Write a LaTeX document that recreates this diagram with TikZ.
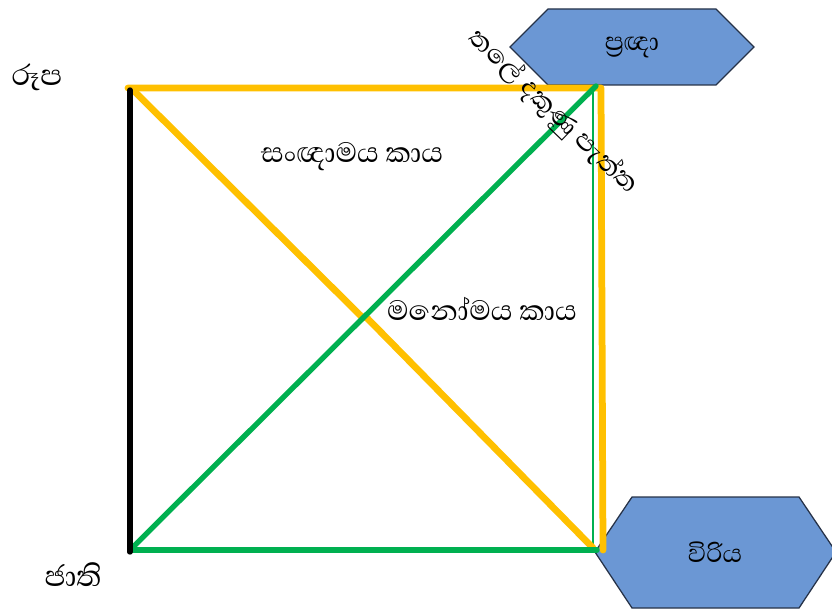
\documentclass[tikz,border=0pt]{standalone}
\usepackage{fontspec}
\newfontfamily\sinhala[Script=Sinhala]{Abhaya Libre}
\usetikzlibrary{calc}
\definecolor{GoldLine}{RGB}{255,192,0}
\definecolor{LeafGreen}{RGB}{0,176,80}
\definecolor{HexBlue}{RGB}{107,151,212}
\definecolor{HexEdge}{RGB}{38,50,72}
\tikzset{
  goldline/.style={GoldLine,line width=4.8pt,line cap=round,line join=round},
  greenline/.style={LeafGreen,line width=3.8pt,line cap=round},
  thingreen/.style={LeafGreen,line width=1.3pt},
  blackline/.style={black,line width=3.8pt,line cap=round},
  hexshape/.style={fill=HexBlue,draw=HexEdge,line width=0.9pt,line join=miter},
  word/.style={font=\sinhala\fontsize{25.5}{30}\selectfont,inner sep=0pt},
  corner/.style={word,font=\sinhala\fontsize{26.5}{31}\selectfont},
  hexword/.style={word,font=\sinhala\fontsize{23}{27}\selectfont}
}

\begin{document}
\begin{tikzpicture}[x=0.025cm,y=-0.025cm]
\useasboundingbox (0,0) rectangle (832,610);

% corners of the square
\coordinate (tl) at (130,88);
\coordinate (tr) at (601,88);
\coordinate (bl) at (130,550);
\coordinate (br) at (597,550);
\coordinate (mid) at (363,318);

% hexagons
\coordinate (pc) at (632,47);
\fill[hexshape] ($(pc)+(-122,0)$) -- ++(38,-38) -- ++(168,0) -- ++(38,38)
  -- ++(-38,38) -- ++(-168,0) -- cycle;
\node[hexword] (pragna) at (pc) {ප්‍රඥා};

\coordinate (vc) at (715,552);
\fill[hexshape] ($(vc)+(-120,0)$) -- ++(37,-55) -- ++(167,0) -- ++(37,55)
  -- ++(-37,56) -- ++(-167,0) -- cycle;
\node[hexword] (viriya) at (vc) {විරිය};

% lines
\draw[goldline] ($(tl)+(-2,0)$) -- (tr) -- ($(tr)+(2,462)$);
\draw[thingreen] ($(tr)+(-8,0)$) -- ($(br)+(-4,-2)$);
\draw[goldline] ($(tl)+(3,2)$) -- (mid);
\draw[goldline] ($(mid)+(4,0)$) -- ($(br)+(-4,-2)$);
\draw[greenline] (bl) -- (br);
\draw[greenline] (bl) -- ($(tr)+(-5,-2)$);
\draw[blackline] ($(tl)+(0,2)$) -- ($(bl)+(0,2)$);

% labels
\node[corner] (rupa) at (37,77) {රූප};
\node[corner] (jati) at (73,575) {ජාති};
\node[word] (sanna) at (352,157) {සංඥාමය කාය};
\node[word] (mano) at (482,309) {මනෝමය කාය};
\node[word,font=\sinhala\fontsize{24}{28}\selectfont,rotate=-44] (side)
  at (553,112) {තලේ දකුණු පැත්ත};
\end{tikzpicture}
\end{document}
